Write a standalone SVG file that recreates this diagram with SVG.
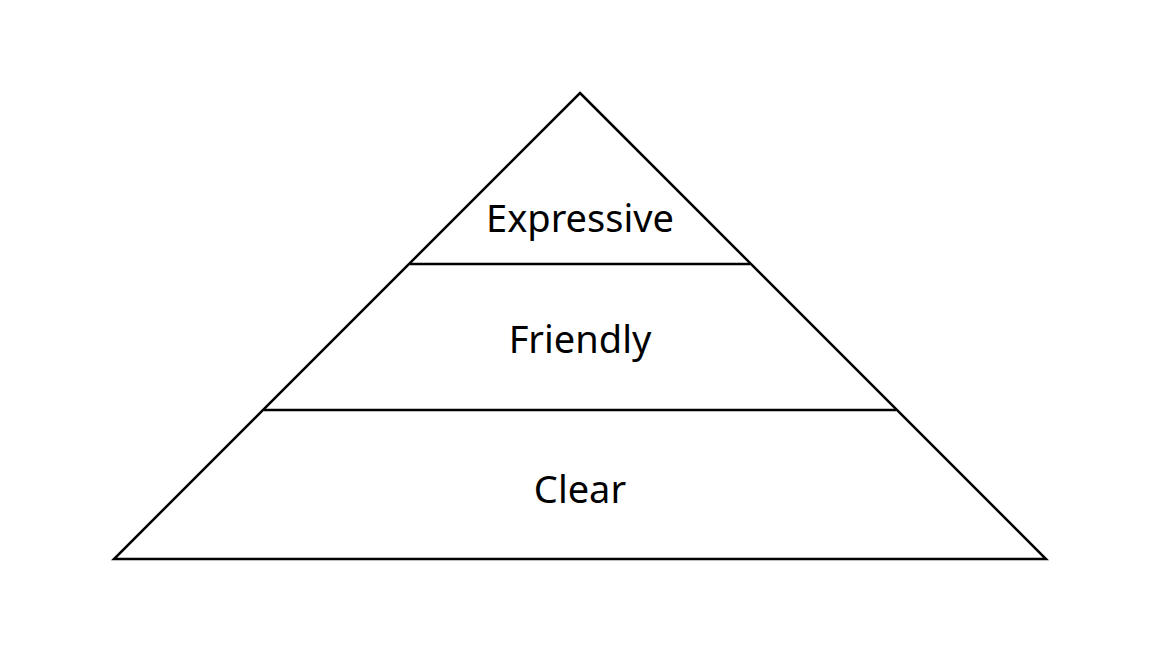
<svg xmlns="http://www.w3.org/2000/svg" width="1160" height="652" viewBox="0 0 1160 652">
<style>
.ln{stroke:#000;stroke-width:2.5;fill:none;stroke-linejoin:miter}
.lbl{font-family:"Noto Sans",Roboto,sans-serif;font-size:38px;fill:#000;text-anchor:middle}
</style>
<rect width="1160" height="652" fill="#fff"/>
<g id="pyramid">
<polygon class="ln" points="580,93 1046,559 114,559"/>
</g>
<g id="connectors">
<line class="ln" x1="410" y1="264" x2="750" y2="264"/>
<line class="ln" x1="264" y1="410" x2="896" y2="410"/>
</g>
<g id="expressive"><text class="lbl" x="580" y="232">Expressive</text></g>
<g id="friendly"><text class="lbl" x="580" y="353">Friendly</text></g>
<g id="clear"><text class="lbl" x="580" y="503">Clear</text></g>
</svg>
